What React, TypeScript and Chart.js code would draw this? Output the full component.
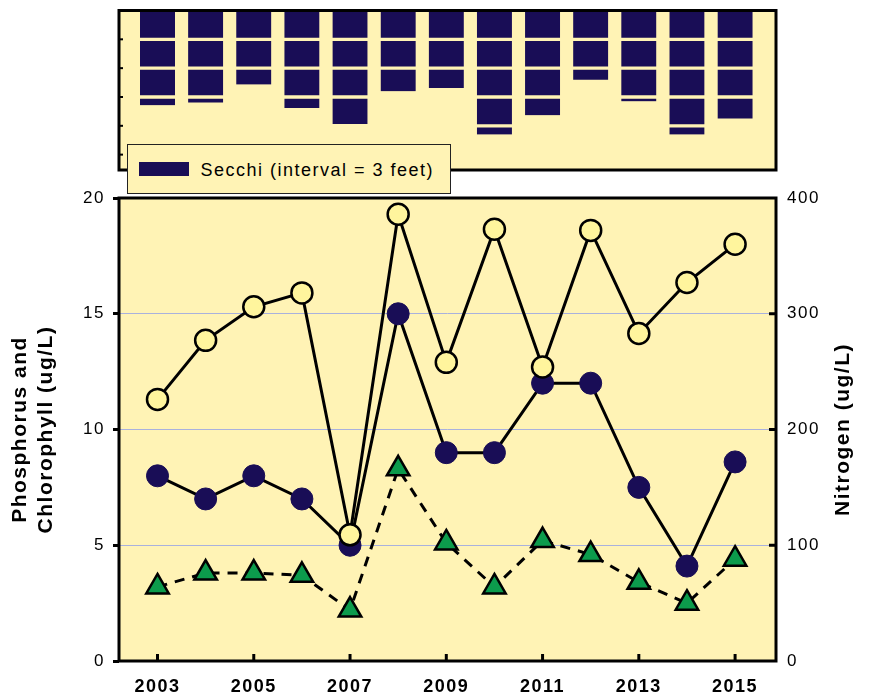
import React, { useEffect, useRef } from "react";
import { Chart, registerables } from "chart.js";

Chart.register(...registerables);

// ---------- data ----------
const YEARS = [2003, 2004, 2005, 2006, 2007, 2008, 2009, 2010, 2011, 2012, 2013, 2014, 2015];
const NITROGEN = [226, 277, 306, 318, 109, 386, 258, 373, 254, 372, 283, 327, 360];
const PHOSPHORUS = [8, 7, 8, 7, 5, 15, 9, 9, 12, 12, 7.5, 4.1, 8.6];
const CHLOROPHYLL = [3.2, 3.8, 3.8, 3.7, 2.2, 8.3, 5.1, 3.2, 5.2, 4.6, 3.4, 2.5, 4.4];
const SECCHI_FEET = [9.86, 9.58, 7.7, 10.15, 11.8, 8.4, 8.06, 12.9, 10.9, 7.2, 9.45, 12.9, 11.25];
const SECCHI_INTERVAL = 3;
const X_TICKS = [2003, 2005, 2007, 2009, 2011, 2013, 2015];
const LEFT_TITLE = ["Phosphorus and", "Chlorophyll (ug/L)"];
const RIGHT_TITLE = "Nitrogen (ug/L)";
const LEGEND_LABEL = "Secchi (interval = 3 feet)";

// ---------- style ----------
const BG = "#fff3b5";
const NAVY = "#190d56";
const GREEN = "#0c9b4c";
const LIGHT_YELLOW = "#fff59d";
const GRID = "#a9b1dd";
const FONT = "'Liberation Sans', Arial, sans-serif";
const W = 869;
const H = 694;
const PLOT_LEFT = 119;
const PLOT_RIGHT = 776;
const X_MIN = 2002.2;
const X_MAX = 2015.85;

function makePanelPlugin(drawInner: (chart: any, ctx: CanvasRenderingContext2D) => void) {
  return {
    id: "panel",
    beforeDraw(chart: any) {
      const ctx = chart.ctx;
      (ctx as any).letterSpacing = "1.5px";
      const a = chart.chartArea;
      ctx.save();
      ctx.fillStyle = BG;
      ctx.fillRect(a.left, a.top, a.right - a.left, a.bottom - a.top);
      ctx.restore();
    },
    afterDraw(chart: any) {
      const ctx = chart.ctx;
      const a = chart.chartArea;
      ctx.save();
      ctx.strokeStyle = "#000";
      drawInner(chart, ctx);
      ctx.lineWidth = 3;
      ctx.strokeRect(a.left, a.top, a.right - a.left, a.bottom - a.top);
      ctx.restore();
    },
  };
}

export default function App() {
  const topRef = useRef<HTMLCanvasElement>(null);
  const mainRef = useRef<HTMLCanvasElement>(null);

  useEffect(() => {
    // ----- top secchi panel -----
    const maxSeg = Math.ceil(Math.max(...SECCHI_FEET) / SECCHI_INTERVAL);
    const segDatasets: any[] = [];
    for (let k = 0; k < maxSeg; k++) {
      segDatasets.push({
        label: k === 0 ? "Secchi" : "",
        data: SECCHI_FEET.map((d, i) => {
          const v = Math.min(Math.max(d - k * SECCHI_INTERVAL, 0), SECCHI_INTERVAL);
          return { x: YEARS[i], y: v > 0 ? v : null };
        }),
        backgroundColor: NAVY,
        borderColor: BG,
        borderSkipped: false,
        borderWidth: (c: any) => {
          const d = SECCHI_FEET[c.dataIndex];
          const full = d > (k + 1) * SECCHI_INTERVAL;
          return { top: k > 0 ? 2 : 0, bottom: full ? 2 : 0, left: 0, right: 0 };
        },
        barThickness: 35,
        stack: "secchi",
      });
    }

    const topPlugin = makePanelPlugin((chart, ctx) => {
      const y = chart.scales.y;
      const a = chart.chartArea;
      ctx.lineWidth = 2;
      for (let v = SECCHI_INTERVAL; v < y.max; v += SECCHI_INTERVAL) {
        const py = y.getPixelForValue(v);
        ctx.beginPath();
        ctx.moveTo(a.left, py);
        ctx.lineTo(a.left + 4, py);
        ctx.stroke();
      }
    });

    const top = new Chart(topRef.current!, {
      type: "bar",
      data: { datasets: segDatasets },
      options: {
        responsive: false,
        animation: false,
        layout: { padding: { left: PLOT_LEFT, right: W - PLOT_RIGHT, top: 10.5, bottom: 15 } },
        plugins: { legend: { display: false }, tooltip: { enabled: false } },
        scales: {
          x: {
            type: "linear",
            min: X_MIN,
            max: X_MAX,
            display: false,
            stacked: true,
            offset: false,
            grid: { offset: false },
          },
          y: { type: "linear", min: 0, max: 16.6, reverse: true, display: false, stacked: true },
        },
      },
      plugins: [topPlugin],
    } as any);

    // ----- main panel -----
    const mainPlugin = makePanelPlugin((chart, ctx) => {
      const a = chart.chartArea;
      ctx.lineWidth = 3;
      const x = chart.scales.x;
      X_TICKS.forEach((v) => {
        const px = x.getPixelForValue(v);
        ctx.beginPath();
        ctx.moveTo(px, a.bottom);
        ctx.lineTo(px, a.bottom - 7);
        ctx.stroke();
      });
      const yN = chart.scales.yN;
      for (let v = 100; v < yN.max; v += 100) {
        const py = yN.getPixelForValue(v);
        ctx.beginPath();
        ctx.moveTo(a.right, py);
        ctx.lineTo(a.right - 7, py);
        ctx.stroke();
      }
      // right axis title, reading bottom-to-top like the left one
      ctx.save();
      ctx.fillStyle = "#000";
      ctx.font = `bold 21px ${FONT}`;
      ctx.textAlign = "center";
      ctx.textBaseline = "middle";
      ctx.translate(843, (a.top + a.bottom) / 2);
      ctx.rotate(-Math.PI / 2);
      ctx.fillText(RIGHT_TITLE, 0, 0);
      ctx.restore();
    });

    const tickFont = { family: FONT, size: 17 };
    const titleFont = { family: FONT, size: 21, weight: "bold" as const, lineHeight: 1.25 };

    const main = new Chart(mainRef.current!, {
      type: "line",
      data: {
        datasets: [
          {
            label: "Nitrogen",
            yAxisID: "yN",
            data: YEARS.map((yr, i) => ({ x: yr, y: NITROGEN[i] })),
            borderColor: "#000",
            borderWidth: 3,
            pointRadius: 10.5,
            pointBackgroundColor: LIGHT_YELLOW,
            pointBorderColor: "#000",
            pointBorderWidth: 2.5,
            tension: 0,
          },
          {
            label: "Phosphorus",
            yAxisID: "y",
            data: YEARS.map((yr, i) => ({ x: yr, y: PHOSPHORUS[i] })),
            borderColor: "#000",
            borderWidth: 3,
            pointRadius: 11,
            pointBackgroundColor: NAVY,
            pointBorderColor: NAVY,
            pointBorderWidth: 1,
            tension: 0,
          },
          {
            label: "Chlorophyll",
            yAxisID: "y",
            data: YEARS.map((yr, i) => ({ x: yr, y: CHLOROPHYLL[i] })),
            borderColor: "#000",
            borderWidth: 3,
            borderDash: [10, 8],
            pointStyle: "triangle",
            pointRadius: 13,
            pointBackgroundColor: GREEN,
            pointBorderColor: "#000",
            pointBorderWidth: 2.5,
            tension: 0,
          },
        ],
      },
      options: {
        responsive: false,
        animation: false,
        layout: { padding: { top: 198, left: 0, right: 0, bottom: 0 } },
        plugins: { legend: { display: false }, tooltip: { enabled: false } },
        scales: {
          x: {
            type: "linear",
            min: X_MIN,
            max: X_MAX,
            afterBuildTicks: (s: any) => {
              s.ticks = X_TICKS.map((v) => ({ value: v }));
            },
            afterFit: (s: any) => {
              s.height = H - 661;
            },
            grid: { display: false, drawTicks: false },
            border: { display: false },
            ticks: {
              font: { family: FONT, size: 18, weight: "bold" },
              color: "#000",
              padding: 15,
              maxRotation: 0,
              autoSkip: false,
              callback: (v: any) => String(v),
            },
          },
          y: {
            position: "left",
            min: 0,
            max: 20,
            ticks: { stepSize: 5, font: tickFont, color: "#000", padding: 8 },
            grid: { color: GRID, lineWidth: 1, tickColor: "#000", tickWidth: 3, tickLength: 6 },
            border: { display: false },
            title: { display: true, text: LEFT_TITLE, font: titleFont, color: "#000", padding: { top: 7, bottom: 0 } },
            afterFit: (s: any) => {
              s.width = PLOT_LEFT;
            },
          },
          yN: {
            position: "right",
            min: 0,
            max: 400,
            ticks: { stepSize: 100, font: tickFont, color: "#000", padding: 11 },
            grid: { drawOnChartArea: false, drawTicks: false },
            border: { display: false },
            title: { display: false, text: RIGHT_TITLE },
            afterFit: (s: any) => {
              s.width = W - PLOT_RIGHT;
            },
          },
        },
      },
      plugins: [mainPlugin],
    } as any);

    return () => {
      top.destroy();
      main.destroy();
    };
  }, []);

  return (
    <div style={{ position: "absolute", left: 0, top: 0, width: W, height: H, background: "#fff" }}>
      <canvas ref={mainRef} width={W} height={H} style={{ position: "absolute", left: 0, top: 0 }} />
      <canvas ref={topRef} width={W} height={185} style={{ position: "absolute", left: 0, top: 0 }} />
      <div
        style={{
          position: "absolute",
          left: 127,
          top: 144,
          width: 324,
          height: 50,
          boxSizing: "border-box",
          background: BG,
          border: "1.5px solid #222",
        }}
      >
        <div style={{ position: "absolute", left: 10.5, top: 16.5, width: 50, height: 14, background: NAVY }} />
        <div
          style={{
            position: "absolute",
            left: 72.5,
            top: 16,
            fontFamily: FONT,
            fontSize: 18,
            lineHeight: "18px",
            letterSpacing: "1.5px",
            color: "#000",
            whiteSpace: "nowrap",
          }}
        >
          {LEGEND_LABEL}
        </div>
      </div>
    </div>
  );
}
